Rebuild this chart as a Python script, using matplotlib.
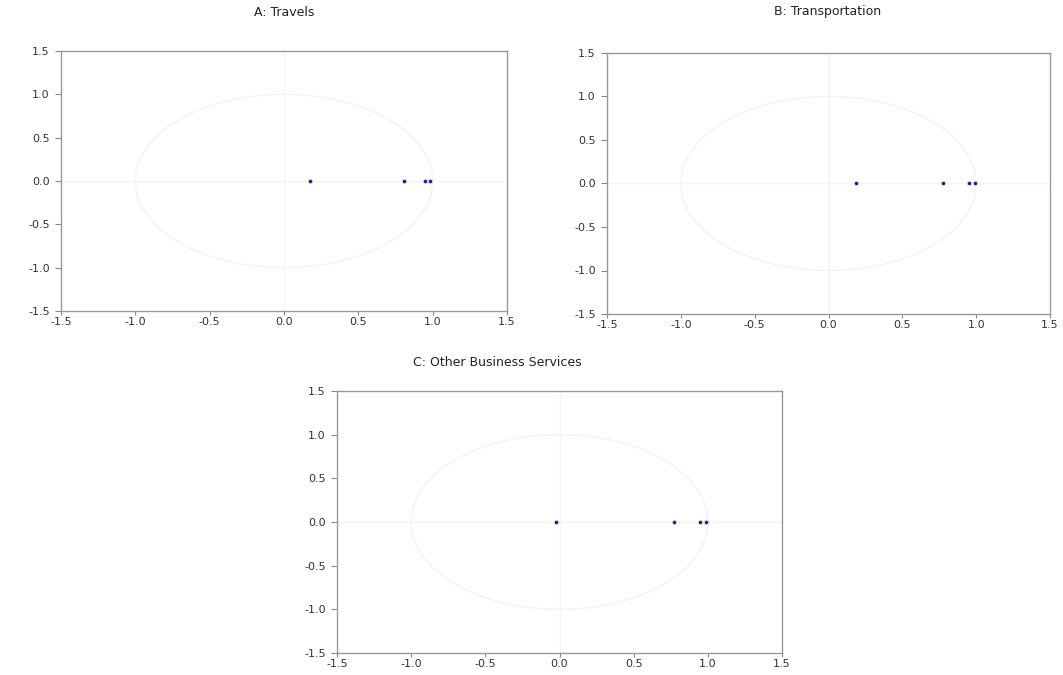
import numpy as np
import matplotlib
matplotlib.use("Agg")
import matplotlib.pyplot as plt

plt.rcParams['font.family'] = ['DejaVu Sans']

titles = ["A: Travels", "B: Transportation", "C: Other Business Services"]
roots_A = [0.175, 0.807, 0.950, 0.985]
roots_B = [0.186, 0.775, 0.954, 0.995]
roots_C = [-0.024, 0.772, 0.947, 0.988]
all_roots = [roots_A, roots_B, roots_C]
ticks = [-1.5, -1.0, -0.5, 0.0, 0.5, 1.0, 1.5]
tick_labels = ["-1.5", "-1.0", "-0.5", "0.0", "0.5", "1.0", "1.5"]

fig = plt.figure(figsize=(10.63, 6.75), dpi=100)
W, H = 1063, 675
boxes = [(61, 51, 507, 311), (607, 53, 1050, 314), (337, 391, 782, 653)]
title_pos = [(284, 12, 'center'), (828, 12, 'center'), (413, 362, 'left')]

theta = np.linspace(0, 2 * np.pi, 400)
for roots, box, title, tp in zip(all_roots, boxes, titles, title_pos):
    x0, y0, x1, y1 = box
    ax = fig.add_axes([x0 / W, 1 - y1 / H, (x1 - x0) / W, (y1 - y0) / H])
    ax.set_xlim(-1.5, 1.5)
    ax.set_ylim(-1.5, 1.5)
    ax.plot(np.cos(theta), np.sin(theta), color='#f3f3f7', lw=1.0, zorder=1)
    ax.axhline(0, color='#f4f4f4', lw=1.0, zorder=1)
    ax.axvline(0, color='#f4f4f4', lw=1.0, zorder=1)
    ax.scatter(roots, np.zeros(len(roots)), s=16, color='#dcdcf2', zorder=2, linewidths=0)
    ax.scatter(roots, np.zeros(len(roots)), s=6, color='#1c1c7a', zorder=3, linewidths=0)
    ax.set_xticks(ticks)
    ax.set_xticklabels(tick_labels)
    ax.set_yticks(ticks)
    ax.set_yticklabels(tick_labels)
    ax.tick_params(direction='out', width=0.8, color='#888888',
                   labelsize=8, labelcolor='#333333')
    ax.tick_params(axis='y', length=4, pad=4)
    ax.tick_params(axis='x', length=3, pad=1.5)
    for s in ax.spines.values():
        s.set_color('#999999')
        s.set_linewidth(1.0)
    fig.text(tp[0] / W, 1 - tp[1] / H, title, ha=tp[2], va='center',
             fontsize=9, color='#222222')

fig.savefig("out.png", dpi=100)
